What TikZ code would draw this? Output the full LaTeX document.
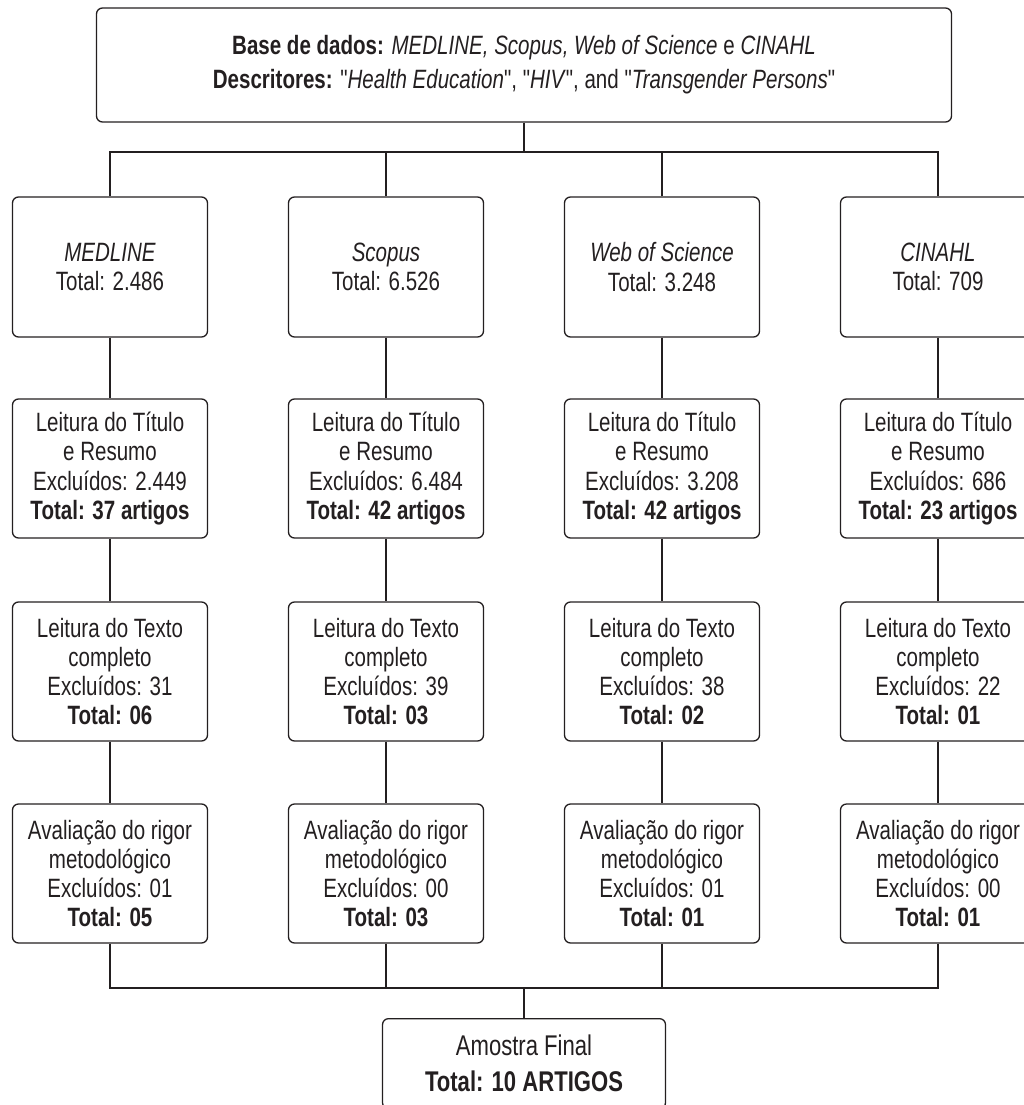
\documentclass[tikz,border=0pt]{standalone}
\usepackage{fontspec}
\setmainfont{Liberation Sans}[FakeStretch=0.775, Ligatures=TeXOff]
\definecolor{ink}{RGB}{35,31,32}
\begin{document}
\begin{tikzpicture}[x=1pt,y=-1pt,
  box/.style={draw=ink, text=ink, line width=1.3pt, rounded corners=6pt,
    minimum width=195pt, minimum height=139pt, align=center, inner sep=0pt,
    font=\fontsize{26.5}{29.3}\selectfont},
  link/.style={draw=ink, line width=2pt}]
\useasboundingbox (0,0) rectangle (1024,1105);

\node[box, minimum width=855pt, minimum height=114pt,
  font=\fontsize{26.5}{34}\selectfont] (top) at (524,65)
  {\textbf{Base de dados:} \textit{MEDLINE, Scopus, Web of Science} e \textit{CINAHL}\\
   \textbf{Descritores:} "\textit{Health Education}", "\textit{HIV}", and "\textit{Transgender Persons}"};

% row 1
\node[box, minimum height=140pt] (a1) at (110,267) {\textit{MEDLINE}\\Total: 2.486};
\node[box, minimum height=140pt] (b1) at (386,267) {\textit{Scopus}\\Total: 6.526};
\node[box, minimum height=140pt] (c1) at (662,267) {\textit{Web of Science}\\Total: 3.248};
\node[box, minimum height=140pt] (d1) at (938,267) {\textit{CINAHL}\\Total: 709};
% row 2
\node[box] (a2) at (110,468.5) {Leitura do Título\\e Resumo\\Excluídos: 2.449\\\textbf{Total: 37 artigos}};
\node[box] (b2) at (386,468.5) {Leitura do Título\\e Resumo\\Excluídos: 6.484\\\textbf{Total: 42 artigos}};
\node[box] (c2) at (662,468.5) {Leitura do Título\\e Resumo\\Excluídos: 3.208\\\textbf{Total: 42 artigos}};
\node[box] (d2) at (938,468.5) {Leitura do Título\\e Resumo\\Excluídos: 686\\\textbf{Total: 23 artigos}};
% row 3
\node[box] (a3) at (110,671.5) {Leitura do Texto\\completo\\Excluídos: 31\\\textbf{Total: 06}};
\node[box] (b3) at (386,671.5) {Leitura do Texto\\completo\\Excluídos: 39\\\textbf{Total: 03}};
\node[box] (c3) at (662,671.5) {Leitura do Texto\\completo\\Excluídos: 38\\\textbf{Total: 02}};
\node[box] (d3) at (938,671.5) {Leitura do Texto\\completo\\Excluídos: 22\\\textbf{Total: 01}};
% row 4
\node[box] (a4) at (110,873.5) {Avaliação do rigor\\metodológico\\Excluídos: 01\\\textbf{Total: 05}};
\node[box] (b4) at (386,873.5) {Avaliação do rigor\\metodológico\\Excluídos: 00\\\textbf{Total: 03}};
\node[box] (c4) at (662,873.5) {Avaliação do rigor\\metodológico\\Excluídos: 01\\\textbf{Total: 01}};
\node[box] (d4) at (938,873.5) {Avaliação do rigor\\metodológico\\Excluídos: 00\\\textbf{Total: 01}};

\node[box, minimum width=283pt, minimum height=90pt, anchor=north,
  font=\fontsize{28.5}{36}\selectfont] (final) at (524,1018)
  {Amostra Final\\\textbf{Total: 10 ARTIGOS}};

\coordinate (tj) at (524,152);
\coordinate (bj) at (524,988);

\draw[link] (top.south) -- (tj);
\foreach \c in {a,b,c,d}{
  \draw[link] (\c1.north) |- (tj);
  \draw[link] (\c1) -- (\c2);
  \draw[link] (\c2) -- (\c3);
  \draw[link] (\c3) -- (\c4);
  \draw[link] (\c4.south) |- (bj);
}
\draw[link] (bj) -- (final.north);
\end{tikzpicture}
\end{document}
